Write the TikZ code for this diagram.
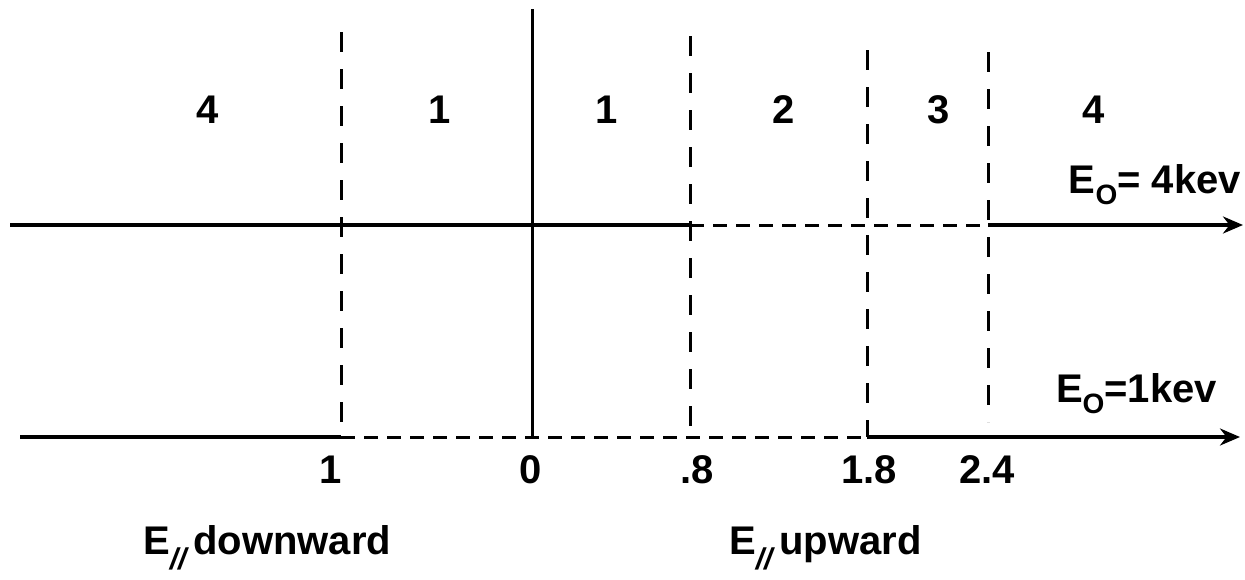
\documentclass[tikz,border=0pt]{standalone}
\usepackage{fontspec}
\setmainfont{Liberation Sans}
\usetikzlibrary{arrows.meta,positioning}
\newcommand{\bigfont}{\fontsize{40}{46}\selectfont\bfseries}
\newcommand{\subO}{\raisebox{-0.28em}{\fontsize{28}{28}\selectfont O}}
\newcommand{\subpar}{\raisebox{-0.38em}{\fontsize{30}{30}\selectfont\itshape //}}

\begin{document}
\begin{tikzpicture}[
  x=1pt,y=-1pt,
  axis/.style={line width=3.2pt},
  dashaxis/.style={line width=3pt,dash pattern=on 14pt off 9pt},
  border/.style={line width=3pt,dash pattern=on 20pt off 17pt},
  lab/.style={font=\bigfont,inner sep=0pt},
  >={Stealth[length=20pt,width=17pt]}]
  \useasboundingbox (0,0) rectangle (1245,579);
  % energy axes
  \coordinate(u0) at(10,225);\coordinate(u1) at(690,225);
  \coordinate(u2) at(988,225);\coordinate(u3) at(1243,225);
  \coordinate(l0) at(20,437);\coordinate(l1) at(341,437);
  \coordinate(l2) at(867,437);\coordinate(l3) at(1240,437);
  % region borders
  \coordinate(b1t) at(341,32);\coordinate(b0t) at(532,9);
  \coordinate(b2t) at(690,36);\coordinate(b3t) at(867,50);
  \coordinate(b4t) at(988,52);
  \coordinate(b0b) at(532,437);\coordinate(b2b) at(690,437);
  \coordinate(b4b) at(988,422);
  \draw[axis](u0)--(u1);\draw[dashaxis](u1)--(u2);\draw[axis,->](u2)--(u3);
  \draw[axis](l0)--(l1);\draw[dashaxis](l1)--(l2);\draw[axis,->](l2)--(l3);
  \draw[axis,line width=3pt](b0t)--(b0b);
  \draw[border](b1t)--(l1);\draw[border](b2t)--(b2b);
  \draw[border](b3t)--(l2);\draw[border](b4t)--(b4b);
  % region numbers
  \node[lab](r1) at(208,110){4};\node[lab](r2) at(440,110){1};
  \node[lab](r3) at(607,110){1};\node[lab](r4) at(784,110){2};
  \node[lab](r5) at(939,110){3};\node[lab](r6) at(1094,110){4};
  % tick values
  \node[lab](t1) at(331,470){1};\node[lab](t2) at(531,470){0};
  \node[lab](t3) at(697,470){.8};\node[lab](t4) at(869,470){1.8};
  \node[lab](t5) at(987,470){2.4};
  \node[lab,anchor=base east](e4) at(1241,193){E\subO= 4kev};
  \node[lab,anchor=base east](e1) at(1217,402){E\subO=1kev};
  \node[lab,anchor=base west](dn) at(143,554){E\subpar\,downward};
  \node[lab,anchor=base west](up) at(729,554){E\subpar\,upward};
\end{tikzpicture}
\end{document}
